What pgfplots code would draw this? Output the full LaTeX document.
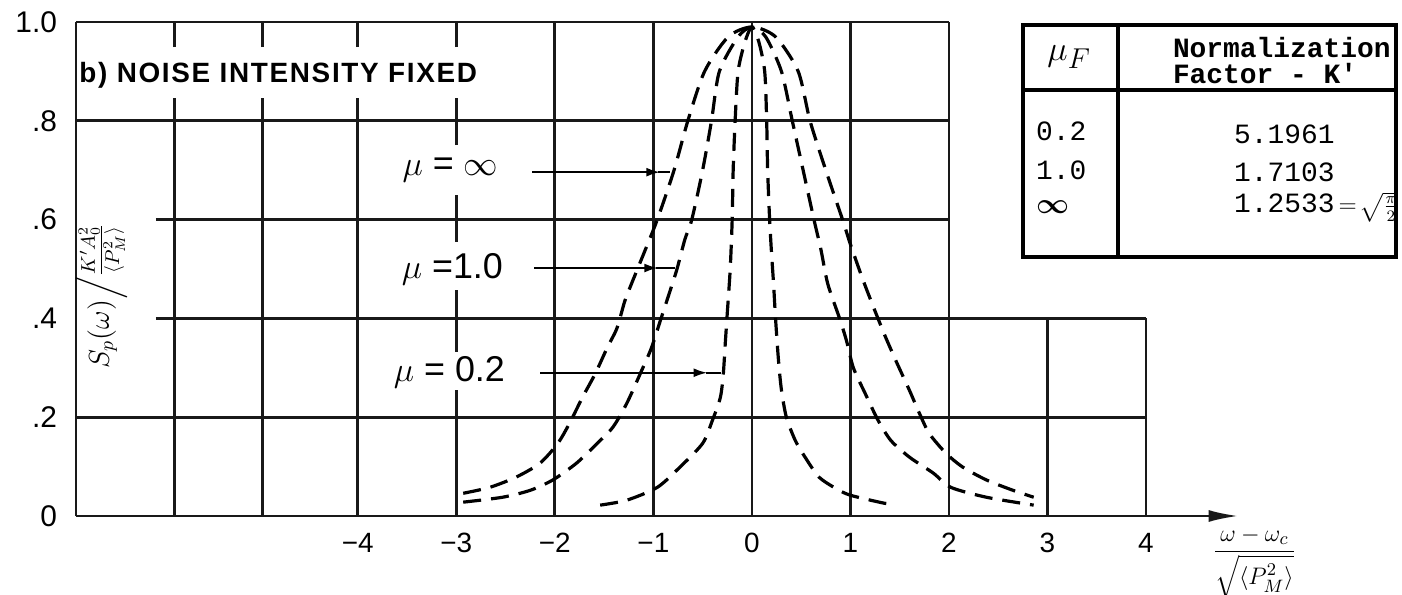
\documentclass[border=0pt]{standalone}
\usepackage{amsmath}
\usepackage{pgfplots}
\pgfplotsset{compat=1.18}
\usepackage{fontspec}
\setmainfont{Liberation Sans}
\newfontfamily\tw{Liberation Mono}
\newfontfamily\titlefont[LetterSpace=6]{Liberation Sans Bold}
\usetikzlibrary{arrows.meta}
\tikzset{
  grid line/.style={black!90, line width=1.35bp},
  curve/.style={black, line width=1.6bp, dash pattern=on 9bp off 5bp, smooth, tension=0.45},
  cell/.style={anchor=west, inner sep=0pt, font=\tw\fontsize{14}{14}\selectfont},
}

\begin{document}
\begin{tikzpicture}
\begin{axis}[
    scale only axis,
    width=535bp, height=247bp,
    xmin=-6.86, xmax=4, ymin=0, ymax=1,
    clip=false,
    axis x line*=bottom, axis y line*=left,
    axis line style={draw=none},
    tick style={draw=none},
    xtick={-4,-3,-2,-1,0,1,2,3,4},
    xticklabels={−4,−3,−2,−1,0,1,2,3,4},
    ytick={0,0.2,0.4,0.6,0.8,1},
    yticklabels={0,.2,.4,.6,.8,1.0},
    xticklabel style={font=\fontsize{14}{14}\selectfont, yshift=-5bp},
    yticklabel style={font=\fontsize{15}{15}\selectfont, xshift=-6bp},
]
\coordinate (o) at (axis cs:-6.86,0);

% grid, drawn in pieces as on the sheet
\draw[grid line] (-6.86,0) -- (-6.86,1);
\draw[grid line] (-5.86,0) -- (-5.86,0.846) (-5.86,0.949) -- (-5.86,1);
\draw[grid line] (-4.97,0) -- (-4.97,0.846) (-4.97,0.949) -- (-4.97,1);
\draw[grid line] (-4,0) -- (-4,0.846) (-4,0.949) -- (-4,1);
\draw[grid line] (-3,0) -- (-3,0.255) (-3,0.332) -- (-3,0.457)
  (-3,0.555) -- (-3,0.65) (-3,0.751) -- (-3,0.846) (-3,0.949) -- (-3,1);
\draw[grid line] (-2,0) -- (-2,1);
\draw[grid line] (-1,0) -- (-1,1);
\draw[grid line] (0,0) -- (0,1);
\draw[grid line] (1,0) -- (1,1);
\draw[grid line] (2,0) -- (2,1);
\draw[grid line] (3,0) -- (3,0.4);
\draw[grid line] (4,0) -- (4,0.4);
\draw[grid line] (-6.86,1) -- (2,1);
\draw[grid line] (-6.86,0.8) -- (2,0.8);
\draw[grid line] (-6.05,0.6) -- (2,0.6);
\draw[grid line] (-6.05,0.4) -- (4,0.4);
\draw[grid line] (-6.86,0.2) -- (4,0.2);
\draw[grid line, -{Latex[length=15bp,width=6bp]}] (-6.86,0) -- (4.94,0);

% mu = infinity
\addplot[curve] coordinates {
(-2.93,0.046)(-2.66,0.058)(-2.39,0.079)(-2.15,0.107)(-1.97,0.147)(-1.85,0.188)
(-1.72,0.24)(-1.59,0.288)(-1.47,0.34)(-1.37,0.38)(-1.29,0.435)(-1.21,0.476)
(-1.10,0.53)(-0.96,0.60)(-0.79,0.70)(-0.65,0.80)(-0.48,0.90)(-0.24,0.97)
(0,0.99)(0.24,0.97)(0.47,0.90)(0.59,0.80)(0.75,0.70)(0.92,0.60)(1.0,0.55)
(1.12,0.482)(1.22,0.43)(1.34,0.37)(1.46,0.315)(1.60,0.254)(1.70,0.208)
(1.80,0.167)(1.97,0.127)(2.14,0.099)(2.38,0.073)(2.65,0.052)(2.86,0.038)
};
% mu = 1.0
\addplot[curve] coordinates {
(-2.93,0.028)(-2.53,0.038)(-2.25,0.052)(-2.02,0.073)(-1.78,0.107)(-1.57,0.147)
(-1.41,0.18)(-1.27,0.228)(-1.12,0.294)(-1.02,0.34)(-0.93,0.395)(-0.83,0.456)
(-0.76,0.50)(-0.68,0.56)(-0.61,0.60)(-0.50,0.70)(-0.41,0.80)(-0.33,0.90)
(-0.14,0.97)(0,0.99)(0.14,0.97)(0.30,0.90)(0.41,0.80)(0.52,0.70)(0.63,0.60)
(0.70,0.54)(0.77,0.47)(0.89,0.40)(0.96,0.355)(1.03,0.30)(1.15,0.248)
(1.28,0.194)(1.41,0.153)(1.60,0.119)(1.84,0.087)(2.02,0.058)(2.38,0.038)(2.86,0.022)
};
% mu = 0.2
\addplot[curve] coordinates {
(-1.54,0.022)(-1.27,0.032)(-0.96,0.058)(-0.73,0.099)(-0.50,0.147)(-0.40,0.194)
(-0.32,0.24)(-0.29,0.288)(-0.27,0.35)(-0.25,0.41)(-0.22,0.50)(-0.20,0.60)
(-0.19,0.70)(-0.17,0.80)(-0.14,0.90)(-0.07,0.96)(0,0.99)(0.07,0.96)(0.13,0.90)
(0.15,0.80)(0.16,0.70)(0.18,0.60)(0.20,0.53)(0.22,0.47)(0.24,0.40)(0.27,0.315)
(0.30,0.255)(0.35,0.20)(0.44,0.153)(0.54,0.119)(0.68,0.079)(0.85,0.056)
(1.0,0.042)(1.34,0.026)(1.42,0.025)
};

% labels and arrows
\node[anchor=west, inner sep=0pt, font=\titlefont\fontsize{14}{14}\selectfont]
  at (-6.83,0.893) {b) NOISE INTENSITY FIXED};
\node[font=\fontsize{18}{18}\selectfont] at (-3.06,0.70) {$\mu$ = $\infty$};
\node[font=\fontsize{18}{18}\selectfont] at (-3.04,0.50) {$\mu$ =1.0};
\node[font=\fontsize{18}{18}\selectfont] at (-3.07,0.29) {$\mu$ = 0.2};
\draw[line width=1.2bp, -{Latex[length=7bp,width=4.5bp]}] (-2.23,0.696) -- (-0.93,0.696);
\draw[line width=1.2bp] (-0.95,0.696) -- (-0.83,0.696);
\draw[line width=1.2bp, -{Latex[length=7bp,width=4.5bp]}] (-2.21,0.502) -- (-0.95,0.502);
\draw[line width=1.2bp] (-0.97,0.502) -- (-0.78,0.502);
\draw[line width=1.2bp, -{Latex[length=7bp,width=4.5bp]}] (-2.15,0.29) -- (-0.45,0.29);
\draw[line width=1.2bp] (-0.47,0.29) -- (-0.31,0.29);

% axis titles
\node[rotate=90, font=\fontsize{14}{14}\selectfont] at (-6.6,0.445)
  {$S_{p}(\omega)\Big/\tfrac{K'A_0^2}{\langle P_M^2\rangle}$};
\node[font=\fontsize{13}{13}\selectfont] at (5.1,-0.095)
  {$\dfrac{\omega-\omega_c}{\sqrt{\langle P_M^2\rangle}}$};

% table of normalization factors
\draw[line width=2bp] (2.75,0.524) rectangle (6.54,0.994);
\draw[line width=2bp] (2.75,0.862) -- (6.54,0.862);
\draw[line width=2bp] (3.72,0.524) -- (3.72,0.994);
\node[font=\fontsize{19}{19}\selectfont] at (3.22,0.929) {$\mu_F$};
\node[cell, font=\tw\bfseries\fontsize{14}{14}\selectfont] at (4.27,0.949) {Normalization};
\node[cell, font=\tw\bfseries\fontsize{14}{14}\selectfont] at (4.27,0.895) {Factor - K'};
\node[cell] at (2.88,0.778) {0.2};
\node[cell] at (2.88,0.700) {1.0};
\node[font=\fontsize{15}{15}\selectfont] at (3.06,0.625) {$\boldsymbol{\infty}$};
\node[cell] at (4.89,0.773) {5.1961};
\node[cell] at (4.89,0.696) {1.7103};
\node[cell] at (4.89,0.625)
  {1.2533\hspace{2bp}{\fontsize{12}{12}\selectfont$=\!\sqrt{\frac{\pi}{2}}$}};
\end{axis}
\pgfresetboundingbox
\path[use as bounding box] (o) ++(-38bp,-39.5bp) rectangle ++(701bp,297.5bp);
\end{tikzpicture}
\end{document}
